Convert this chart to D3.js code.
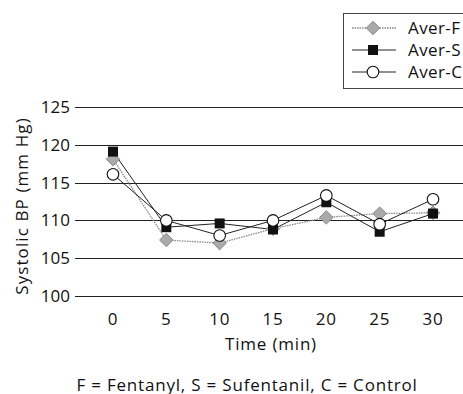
<!DOCTYPE html>
<html><head><meta charset="utf-8">
<script src="https://cdn.jsdelivr.net/npm/d3@7/dist/d3.min.js"></script>
<style>body{margin:0;background:#fff}svg{display:block}text{font-family:"Open Sans",Lato,sans-serif;fill:#111}</style>
</head><body><svg id="c" width="463" height="394"></svg>
<script>
const times = [0, 5, 10, 15, 20, 25, 30];
const averF = [118.1, 107.4, 107.0, 108.9, 110.4, 110.9, 111.0];
const averS = [119.1, 109.1, 109.6, 108.8, 112.4, 108.5, 110.9];
const averC = [116.1, 110.0, 108.0, 110.0, 113.3, 109.5, 112.8];
const yTicks = [100, 105, 110, 115, 120, 125];
const seriesNames = ["Aver-F", "Aver-S", "Aver-C"];

const svg = d3.select("#c");
const x = d3.scalePoint().domain(times).range([113, 433]);
const y = d3.scaleLinear().domain([100, 125]).range([296, 107]);
const FS = 17;

// gridlines
svg.append("g").selectAll("line").data(yTicks).join("line")
  .attr("x1", 75).attr("x2", 463)
  .attr("y1", d => Math.round(y(d)) + 0.5).attr("y2", d => Math.round(y(d)) + 0.5)
  .attr("stroke", "#222").attr("stroke-width", 1);

// y tick labels
svg.append("g").selectAll("text").data(yTicks).join("text")
  .attr("x", 70).attr("y", d => y(d) + 6).attr("text-anchor", "end")
  .attr("font-size", FS).text(d => d);

// x tick labels
svg.append("g").selectAll("text").data(times).join("text")
  .attr("x", d => x(d)).attr("y", 325).attr("text-anchor", "middle")
  .attr("font-size", FS).attr("letter-spacing", 0.8).text(d => d);

svg.append("text").attr("x", 271).attr("y", 350).attr("text-anchor", "middle")
  .attr("font-size", FS).attr("letter-spacing", 0.8).text("Time (min)");
svg.append("text").attr("transform", "translate(28,206) rotate(-90)").attr("text-anchor", "middle")
  .attr("font-size", FS).attr("letter-spacing", 1.1).text("Systolic BP (mm Hg)");
svg.append("text").attr("x", 247).attr("y", 390.5).attr("text-anchor", "middle")
  .attr("font-size", FS).attr("letter-spacing", 0.8).text("F = Fentanyl, S = Sufentanil, C = Control");

const line = d3.line().x((d, i) => x(times[i])).y(d => y(d));

const styles = [
  {data: averF, stroke: "#888", dash: "1.5,1", width: 1.3, shape: "diamond"},
  {data: averS, stroke: "#222", dash: null, width: 1, shape: "square"},
  {data: averC, stroke: "#222", dash: null, width: 1, shape: "circle"}
];

function marker(g, shape, cx, cy) {
  if (shape === "diamond") {
    g.append("path").attr("d", d3.symbol(d3.symbolDiamond2 || d3.symbolDiamond, 115)())
      .attr("transform", `translate(${cx},${cy})`)
      .attr("fill", "#aaa").attr("stroke", "#888").attr("stroke-width", 1);
  } else if (shape === "square") {
    g.append("rect").attr("x", cx - 5).attr("y", cy - 5).attr("width", 10).attr("height", 10)
      .attr("fill", "#111");
  } else {
    g.append("circle").attr("cx", cx).attr("cy", cy).attr("r", 5.8)
      .attr("fill", "#fff").attr("stroke", "#111").attr("stroke-width", 1.1);
  }
}

styles.forEach(s => {
  svg.append("path").datum(s.data).attr("d", line).attr("fill", "none")
    .attr("stroke", s.stroke).attr("stroke-width", s.width)
    .attr("stroke-dasharray", s.dash);
});
styles.forEach(s => {
  const g = svg.append("g");
  s.data.forEach((v, i) => marker(g, s.shape, x(times[i]), y(v)));
});

// legend
const lg = svg.append("g");
lg.append("rect").attr("x", 343.5).attr("y", 13.5).attr("width", 130).attr("height", 75)
  .attr("fill", "#fff").attr("stroke", "#444").attr("stroke-width", 1);
const ly = [28, 50, 72];
styles.forEach((s, i) => {
  lg.append("line").attr("x1", 352).attr("x2", 396).attr("y1", ly[i]).attr("y2", ly[i])
    .attr("stroke", s.stroke).attr("stroke-width", s.width).attr("stroke-dasharray", s.dash);
  marker(lg, s.shape, 373, ly[i]);
  lg.append("text").attr("x", 408).attr("y", ly[i] + 6).attr("font-size", FS).attr("letter-spacing", 0.4).text(seriesNames[i]);
});
</script></body></html>
